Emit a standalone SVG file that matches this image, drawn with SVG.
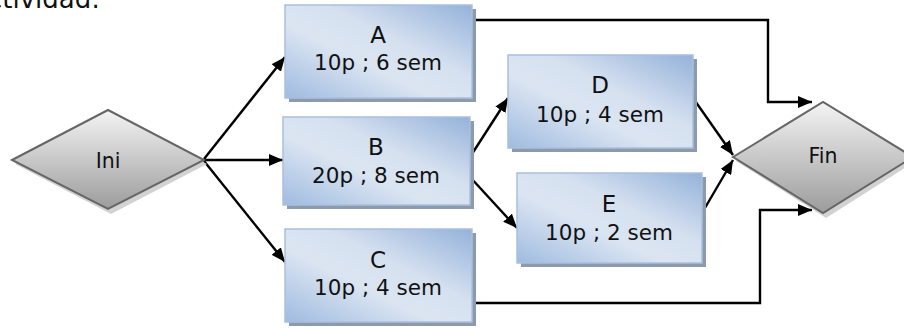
<svg xmlns="http://www.w3.org/2000/svg" width="904" height="328" viewBox="0 0 904 328">
<defs>
<linearGradient id="gBox" x1="0" y1="1" x2="1" y2="0">
<stop offset="0" stop-color="#9fbbe0"/>
<stop offset="0.4" stop-color="#dbe5f2"/>
<stop offset="0.6" stop-color="#d6e1f0"/>
<stop offset="1" stop-color="#94b2da"/>
</linearGradient>
<linearGradient id="gDia" x1="0" y1="0" x2="0" y2="1">
<stop offset="0" stop-color="#f4f4f4"/>
<stop offset="1" stop-color="#9c9c9c"/>
</linearGradient>
<marker id="arr" viewBox="0 0 14 12" refX="14" refY="6" markerWidth="14" markerHeight="12" markerUnits="userSpaceOnUse" orient="auto">
<path d="M0,0 L14,6 L0,12 Z" fill="#000"/>
</marker>
</defs>
<style>
.box{fill:url(#gBox);stroke:#a9c0de;stroke-width:1.5}
.bsh{fill:#8d9aab}
.dia{fill:url(#gDia);stroke:#666;stroke-width:2}
.dsh{fill:#d2d2d2}
.t{font-family:"DejaVu Sans",Verdana,sans-serif;font-size:21.5px;fill:#111;text-anchor:middle}
.h{font-size:23px}
.c{fill:none;stroke:#000;stroke-width:2.4;marker-end:url(#arr)}
</style>
<text x="100" y="8" style="font-family:'DejaVu Sans',Verdana,sans-serif;font-size:26px;fill:#111;text-anchor:end">actividad:</text>
<g id="connectors">
<path class="c" d="M204,159 L285,57"/>
<path class="c" d="M204,160 L283,160"/>
<path class="c" d="M204,161 L285,262"/>
<path class="c" d="M470,157 L508,98"/>
<path class="c" d="M470,177 L517,228"/>
<path class="c" d="M693,98 L733,155"/>
<path class="c" d="M702,213 L733,160"/>
<path class="c" d="M472,20 L768,20 L768,102 L812,102"/>
<path class="c" d="M472,303 L760,303 L760,210 L812,210"/>
</g>
<g id="Ini">
<polygon class="dsh" points="15,164 111,114 207,164 111,214"/>
<polygon class="dia" points="12,160 108,110 204,160 108,209"/>
<text class="t" x="108" y="168" style="font-size:20.5px">Ini</text>
</g>
<g id="Fin">
<polygon class="dsh" points="736,161 826,106 916,161 826,218"/>
<polygon class="dia" points="733,157 823,102 913,157 823,213"/>
<text class="t" x="823" y="163" style="font-size:20.5px">Fin</text>
</g>
<g id="A">
<rect class="bsh" x="289" y="9" width="187" height="93"/>
<rect class="box" x="285" y="5" width="187" height="93"/>
<text class="t h" x="378" y="43">A</text>
<text class="t" x="378" y="70">10p ; 6 sem</text>
</g>
<g id="B">
<rect class="bsh" x="287" y="121" width="187" height="88"/>
<rect class="box" x="283" y="117" width="187" height="88"/>
<text class="t h" x="376" y="155">B</text>
<text class="t" x="376" y="183">20p ; 8 sem</text>
</g>
<g id="C">
<rect class="bsh" x="289" y="233" width="187" height="93"/>
<rect class="box" x="285" y="229" width="187" height="93"/>
<text class="t h" x="378" y="268">C</text>
<text class="t" x="378" y="295">10p ; 4 sem</text>
</g>
<g id="D">
<rect class="bsh" x="512" y="59" width="185" height="93"/>
<rect class="box" x="508" y="55" width="185" height="93"/>
<text class="t h" x="600" y="93">D</text>
<text class="t" x="600" y="122">10p ; 4 sem</text>
</g>
<g id="E">
<rect class="bsh" x="521" y="177" width="185" height="90"/>
<rect class="box" x="517" y="173" width="185" height="90"/>
<text class="t h" x="609" y="212">E</text>
<text class="t" x="609" y="240">10p ; 2 sem</text>
</g>
</svg>
